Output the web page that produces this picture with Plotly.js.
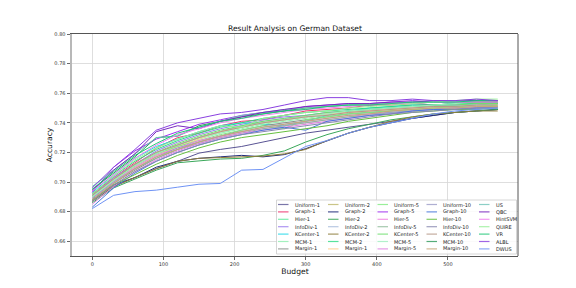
<!DOCTYPE html>
<html>
<head>
<meta charset="utf-8">
<script src="https://cdn.plot.ly/plotly-3.0.1.min.js"></script>
<style>html,body{margin:0;padding:0;background:#fff;}#chart{width:576px;height:288px;}</style>
</head>
<body>
<div id="chart"></div>
<script>
// ---- data ----
const budget = [0,30,60,90,120,150,180,210,240,270,300,330,360,390,420,450,480,510,540,570];

const uniform1  = [0.687,0.697,0.703,0.709,0.714,0.7195,0.722,0.724,0.727,0.730,0.733,0.735,0.737,0.739,0.741,0.743,0.745,0.747,0.748,0.749];
const graph1    = [0.692,0.703,0.713,0.723,0.730,0.733,0.738,0.741,0.742,0.745,0.748,0.749,0.750,0.752,0.752,0.753,0.752,0.753,0.754,0.754];
const hier1     = [0.689,0.700,0.711,0.719,0.725,0.730,0.734,0.738,0.740,0.742,0.744,0.746,0.748,0.749,0.750,0.751,0.751,0.752,0.752,0.753];
const infodiv1  = [0.691,0.703,0.712,0.721,0.727,0.732,0.736,0.739,0.742,0.744,0.745,0.747,0.748,0.749,0.750,0.751,0.752,0.752,0.753,0.753];
const kcenter1  = [0.693,0.705,0.716,0.724,0.729,0.734,0.738,0.740,0.739,0.738,0.741,0.745,0.748,0.750,0.751,0.752,0.752,0.753,0.753,0.753];
const mcm1      = [0.690,0.700,0.710,0.718,0.724,0.729,0.733,0.736,0.739,0.741,0.743,0.745,0.746,0.747,0.748,0.749,0.750,0.751,0.751,0.752];
const margin1   = [0.688,0.699,0.708,0.716,0.722,0.727,0.731,0.735,0.738,0.740,0.742,0.744,0.746,0.747,0.748,0.749,0.750,0.750,0.751,0.751];
const uniform2  = [0.690,0.702,0.711,0.719,0.725,0.730,0.734,0.737,0.740,0.742,0.744,0.746,0.747,0.748,0.749,0.750,0.751,0.751,0.752,0.752];
const graph2    = [0.688,0.698,0.703,0.710,0.714,0.716,0.717,0.718,0.717,0.7185,0.7225,0.728,0.733,0.737,0.740,0.743,0.745,0.747,0.748,0.749];
const hier2     = [0.686,0.696,0.702,0.708,0.713,0.7145,0.7155,0.716,0.718,0.721,0.727,0.732,0.736,0.739,0.742,0.744,0.746,0.747,0.748,0.749];
const infodiv2  = [0.690,0.701,0.711,0.719,0.725,0.730,0.734,0.738,0.741,0.743,0.744,0.746,0.747,0.748,0.749,0.750,0.751,0.752,0.752,0.752];
const kcenter2  = [0.687,0.697,0.703,0.709,0.714,0.716,0.7165,0.717,0.7175,0.719,0.722,0.728,0.733,0.737,0.741,0.744,0.746,0.747,0.748,0.748];
const mcm2      = [0.692,0.704,0.714,0.722,0.728,0.733,0.737,0.740,0.743,0.745,0.747,0.748,0.749,0.750,0.751,0.752,0.752,0.753,0.753,0.753];
const margin1b  = [0.689,0.700,0.710,0.718,0.724,0.729,0.734,0.737,0.740,0.742,0.744,0.746,0.747,0.748,0.749,0.750,0.750,0.751,0.751,0.752];
const uniform5  = [0.690,0.701,0.711,0.719,0.724,0.728,0.732,0.735,0.738,0.736,0.742,0.744,0.746,0.747,0.748,0.749,0.750,0.751,0.751,0.752];
const graph5    = [0.693,0.710,0.721,0.729,0.734,0.739,0.742,0.745,0.747,0.748,0.751,0.752,0.753,0.753,0.754,0.755,0.754,0.755,0.755,0.755];
const hier5     = [0.689,0.700,0.710,0.718,0.723,0.728,0.731,0.734,0.736,0.738,0.740,0.742,0.744,0.746,0.747,0.748,0.749,0.750,0.751,0.751];
const infodiv5  = [0.688,0.699,0.709,0.716,0.722,0.726,0.730,0.733,0.736,0.738,0.740,0.742,0.744,0.745,0.747,0.748,0.749,0.750,0.750,0.751];
const kcenter5  = [0.691,0.702,0.712,0.720,0.726,0.731,0.735,0.738,0.741,0.743,0.745,0.747,0.748,0.749,0.750,0.751,0.752,0.752,0.753,0.753];
const mcm5      = [0.690,0.701,0.711,0.719,0.725,0.730,0.733,0.737,0.740,0.742,0.744,0.746,0.748,0.749,0.750,0.751,0.752,0.753,0.754,0.754];
const margin5   = [0.685,0.697,0.707,0.715,0.721,0.726,0.730,0.733,0.735,0.737,0.739,0.741,0.743,0.745,0.746,0.748,0.749,0.750,0.750,0.751];
const uniform10 = [0.689,0.700,0.709,0.717,0.723,0.727,0.731,0.734,0.737,0.739,0.741,0.743,0.745,0.746,0.747,0.748,0.749,0.750,0.750,0.751];
const graph10   = [0.683,0.696,0.706,0.714,0.720,0.725,0.729,0.732,0.735,0.737,0.735,0.741,0.743,0.745,0.746,0.748,0.749,0.749,0.750,0.750];
const hier10    = [0.688,0.698,0.705,0.712,0.718,0.723,0.727,0.730,0.732,0.734,0.736,0.738,0.741,0.743,0.745,0.747,0.748,0.749,0.749,0.750];
const infodiv10 = [0.687,0.698,0.707,0.714,0.720,0.725,0.729,0.732,0.734,0.736,0.738,0.740,0.742,0.744,0.746,0.747,0.748,0.749,0.750,0.750];
const kcenter10 = [0.691,0.702,0.712,0.720,0.725,0.730,0.734,0.737,0.740,0.742,0.744,0.745,0.747,0.748,0.749,0.750,0.751,0.751,0.752,0.752];
const mcm10     = [0.695,0.706,0.717,0.730,0.731,0.738,0.741,0.744,0.746,0.748,0.750,0.751,0.752,0.752,0.753,0.753,0.754,0.754,0.754,0.754];
const margin10  = [0.688,0.699,0.709,0.717,0.722,0.727,0.731,0.734,0.737,0.739,0.741,0.743,0.745,0.746,0.748,0.749,0.750,0.750,0.751,0.751];
const us        = [0.697,0.708,0.719,0.730,0.731,0.737,0.741,0.745,0.747,0.749,0.750,0.751,0.752,0.753,0.753,0.754,0.754,0.754,0.755,0.755];
const qbc       = [0.694,0.708,0.719,0.734,0.738,0.736,0.741,0.744,0.747,0.749,0.751,0.752,0.753,0.753,0.754,0.754,0.755,0.755,0.755,0.755];
const hintsvm   = [0.694,0.705,0.716,0.725,0.732,0.736,0.740,0.743,0.745,0.747,0.749,0.750,0.751,0.752,0.753,0.753,0.754,0.754,0.754,0.754];
const quire     = [0.692,0.704,0.715,0.723,0.729,0.734,0.738,0.737,0.743,0.745,0.747,0.748,0.750,0.751,0.752,0.753,0.754,0.755,0.756,0.756];
const vr        = [0.695,0.707,0.718,0.726,0.733,0.737,0.741,0.743,0.746,0.748,0.749,0.751,0.752,0.752,0.753,0.754,0.754,0.754,0.755,0.755];
const albl      = [0.696,0.710,0.722,0.735,0.740,0.743,0.746,0.747,0.749,0.752,0.755,0.757,0.757,0.755,0.755,0.756,0.755,0.755,0.756,0.755];
const dwus      = [0.682,0.691,0.6935,0.6945,0.6965,0.6985,0.699,0.708,0.7085,0.716,0.724,0.728,0.733,0.737,0.740,0.743,0.746,0.748,0.749,0.750];

const seriesNames = ['Uniform-1','Graph-1','Hier-1','InfoDiv-1','KCenter-1','MCM-1','Margin-1',
  'Uniform-2','Graph-2','Hier-2','InfoDiv-2','KCenter-2','MCM-2','Margin-1',
  'Uniform-5','Graph-5','Hier-5','InfoDiv-5','KCenter-5','MCM-5','Margin-5',
  'Uniform-10','Graph-10','Hier-10','InfoDiv-10','KCenter-10','MCM-10','Margin-10',
  'US','QBC','HintSVM','QUIRE','VR','ALBL','DWUS'];
const seriesValues = [uniform1,graph1,hier1,infodiv1,kcenter1,mcm1,margin1,
  uniform2,graph2,hier2,infodiv2,kcenter2,mcm2,margin1b,
  uniform5,graph5,hier5,infodiv5,kcenter5,mcm5,margin5,
  uniform10,graph10,hier10,infodiv10,kcenter10,mcm10,margin10,
  us,qbc,hintsvm,quire,vr,albl,dwus];
const yTicks = [0.66,0.68,0.70,0.72,0.74,0.76,0.78,0.80];
const xTicks = [0,100,200,300,400,500];

// ---- styles ----
const seriesColors = ['#5a5494','#f0306e','#5ee89a','#9a7cf0','#20d8e8','#8ef0b0','#8a908a',
  '#bdb76b','#1f2a7a','#3aa85a','#a8bcdc','#8f7e3c','#30dd85','#ffcf90',
  '#80ec80','#a030f0','#f07ee0','#8fbc9a','#70e070','#a0f0c0','#e080e0',
  '#9c9cc8','#4a78dc','#66c040','#8888b0','#b89888','#2e9a5a','#c8a67a',
  '#70c4b8','#7a28c0','#f080f0','#98f098','#20c878','#8a40e0','#6f93f5'];

const traces = seriesValues.map((vals, i) => ({
  type: 'scatter', mode: 'lines', x: budget, y: vals, name: seriesNames[i],
  line: {color: seriesColors[i], width: 1}, showlegend: false, hoverinfo: 'skip'
}));

// plot-area pixel geometry
const W = 576, H = 288, L = 72, R = 58, T = 34, B = 32;
const pw = W - L - R, ph = H - T - B;
const px2x = p => (p - L) / pw;
const py2y = p => (H - B - p) / ph;

// manual multi-column legend (matplotlib style, 5 columns x 7 rows)
const colX = [278, 328, 377.5, 426.5, 479];
const rowY0 = 204.5, rowStep = 7.4, nRows = 7;
const shapes = [
  {type:'rect', xref:'paper', yref:'paper', layer:'above',
   x0:px2x(276.5), x1:px2x(516.5), y0:py2y(254), y1:py2y(200),
   line:{color:'#cccccc', width:0.8}, fillcolor:'rgba(255,255,255,0.85)'},
  {type:'line', xref:'paper', yref:'paper', layer:'above', x0:1, x1:1, y0:0, y1:1,
   line:{color:'#555555', width:1}}
];
const annotations = [];
seriesNames.forEach((nm, i) => {
  const c = Math.floor(i / nRows), r = i % nRows;
  const yy = py2y(rowY0 + r * rowStep);
  shapes.push({type:'line', xref:'paper', yref:'paper', layer:'above',
    x0:px2x(colX[c]), x1:px2x(colX[c] + 10.5), y0:yy, y1:yy,
    line:{color: seriesColors[i], width:1.2}, opacity:0.8});
  annotations.push({xref:'paper', yref:'paper', x:px2x(colX[c] + 14.5), y:yy,
    xanchor:'left', yanchor:'middle', showarrow:false, text:nm,
    font:{family:'DejaVu Sans', size:5, color:'#222'}});
});

const layout = {
  width: W, height: H,
  margin: {l:L, r:R, t:T, b:B, pad:0},
  paper_bgcolor:'#ffffff', plot_bgcolor:'#ffffff',
  font: {family:'DejaVu Sans', size:5, color:'#333'},
  showlegend: false,
  title: {text:'Result Analysis on German Dataset', x:0.5, xref:'paper', xanchor:'center',
          y: 1 - 28.5 / H, yref:'container', yanchor:'middle',
          font:{family:'DejaVu Sans', size:7.6, color:'#111'}},
  xaxis: {range:[-28.5, 598.5], tickvals:xTicks, ticks:'outside', ticklen:3, tickwidth:0.8,
          tickcolor:'#444', gridcolor:'#d6d6d6', gridwidth:0.8, zeroline:false,
          showline:true, linecolor:'#555', linewidth:1, mirror:true,
          tickfont:{size:5, color:'#333'},
          title:{text:'Budget', standoff:2, font:{size:7.6, color:'#111'}}},
  yaxis: {range:[0.65, 0.80], tickvals:yTicks, tickformat:'.2f', ticks:'outside', ticklen:3,
          tickwidth:0.8, tickcolor:'#444', gridcolor:'#d6d6d6', gridwidth:0.8, zeroline:false,
          showline:true, linecolor:'#b8b8b8', linewidth:2.5, mirror:false,
          tickfont:{size:5, color:'#333'},
          title:{text:'Accuracy', standoff:1, font:{size:7.6, color:'#111'}}},
  shapes: shapes,
  annotations: annotations
};

Plotly.newPlot('chart', traces, layout, {staticPlot:true, displayModeBar:false});
</script>
</body>
</html>
